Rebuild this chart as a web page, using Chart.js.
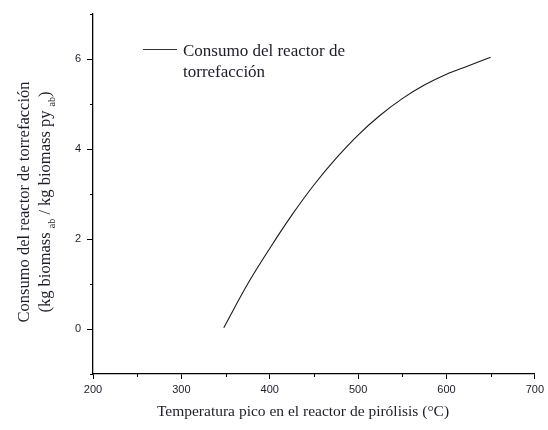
<!DOCTYPE html>
<html>
<head>
<meta charset="utf-8">
<script src="https://cdn.jsdelivr.net/npm/chart.js@4.4.1/dist/chart.umd.min.js"></script>
<style>
  html, body { margin: 0; padding: 0; background: #fff; }
  #wrap { width: 548px; height: 430px; position: relative; }
</style>
</head>
<body>
<div id="wrap"><canvas id="chart" width="548" height="430"></canvas></div>
<script>
// Temperatura pico (°C) y consumo del reactor de torrefacción
const temperatures = [348, 375, 400, 425, 450, 475, 500, 525, 550, 575, 600, 625, 650];
const consumption  = [0.03, 1.0, 1.79, 2.53, 3.2, 3.79, 4.31, 4.75, 5.12, 5.42, 5.66, 5.85, 6.04];

const xTicks = [200, 300, 400, 500, 600, 700];
const yTicks = [0, 2, 4, 6];
const xMinor = [250, 350, 450, 550, 650];
const yMinor = [-1, 1, 3, 5, 7];

const legendLines = ["Consumo del reactor de", "torrefacción"];
const xTitle = "Temperatura pico en el reactor de pirólisis (°C)";
const yTitle1 = "Consumo del reactor de torrefacción";

const serif = "'Liberation Serif', 'DejaVu Serif', serif";
const textColor = "#1c1c2c";

// Dibuja ticks menores, títulos de ejes y la leyenda
const extrasPlugin = {
  id: 'extras',
  afterDraw(chart) {
    const ctx = chart.ctx;
    const xs = chart.scales.x, ys = chart.scales.y;
    const area = chart.chartArea;
    ctx.save();
    ctx.strokeStyle = '#000';
    ctx.lineWidth = 1;
    // ticks menores
    xMinor.forEach(v => {
      const px = Math.round(xs.getPixelForValue(v)) + 0.5;
      ctx.beginPath();
      ctx.moveTo(px, area.bottom);
      ctx.lineTo(px, area.bottom + 3);
      ctx.stroke();
    });
    yMinor.forEach(v => {
      const py = Math.round(ys.getPixelForValue(v)) + 0.5;
      ctx.beginPath();
      ctx.moveTo(area.left, py);
      ctx.lineTo(area.left - 3, py);
      ctx.stroke();
    });

    ctx.fillStyle = textColor;
    // título eje x
    ctx.font = "15.5px " + serif;
    ctx.textAlign = 'center';
    ctx.textBaseline = 'middle';
    ctx.fillText(xTitle, 303, 412);

    // título eje y (dos líneas, la segunda con subíndices)
    ctx.save();
    ctx.translate(25, 202);
    ctx.rotate(-Math.PI / 2);
    ctx.font = "16.5px " + serif;
    ctx.textAlign = 'center';
    ctx.textBaseline = 'middle';
    ctx.fillText(yTitle1, 0, 0);
    ctx.restore();

    ctx.save();
    ctx.translate(46, 202);
    ctx.rotate(-Math.PI / 2);
    const parts = [
      { t: "(kg biomass ", sub: false },
      { t: "ab", sub: true },
      { t: " / kg biomass py ", sub: false },
      { t: "ab", sub: true },
      { t: ")", sub: false }
    ];
    const bigFont = "16.5px " + serif, smallFont = "10px " + serif;
    let total = 0;
    parts.forEach(p => {
      ctx.font = p.sub ? smallFont : bigFont;
      p.w = ctx.measureText(p.t).width;
      total += p.w;
    });
    let cx = -total / 2;
    ctx.textAlign = 'left';
    ctx.textBaseline = 'middle';
    parts.forEach(p => {
      ctx.font = p.sub ? smallFont : bigFont;
      ctx.fillText(p.t, cx, p.sub ? 6 : 0);
      cx += p.w;
    });
    ctx.restore();

    // leyenda
    ctx.strokeStyle = '#333';
    ctx.lineWidth = 1.2;
    ctx.beginPath();
    ctx.moveTo(143, 49.5);
    ctx.lineTo(177, 49.5);
    ctx.stroke();
    ctx.font = "17px " + serif;
    ctx.textAlign = 'left';
    ctx.textBaseline = 'alphabetic';
    ctx.fillText(legendLines[0], 183, 56);
    ctx.fillText(legendLines[1], 183, 77);
    ctx.restore();
  }
};

const ctx = document.getElementById('chart').getContext('2d');
new Chart(ctx, {
  type: 'line',
  data: {
    datasets: [{
      label: 'Consumo del reactor de torrefacción',
      data: temperatures.map((t, i) => ({ x: t, y: consumption[i] })),
      borderColor: '#1a1a1a',
      borderWidth: 1.1,
      pointRadius: 0,
      fill: false,
      cubicInterpolationMode: 'monotone'
    }]
  },
  options: {
    responsive: false,
    animation: false,
    layout: { padding: { top: 14, right: 12, left: 0, bottom: 0 } },
    plugins: {
      legend: { display: false },
      tooltip: { enabled: false }
    },
    scales: {
      x: {
        type: 'linear',
        min: 200,
        max: 700,
        afterBuildTicks: scale => { scale.ticks = xTicks.map(v => ({ value: v })); },
        afterFit: scale => { scale.height = 56; },
        border: { color: '#000', width: 1.3 },
        grid: { drawOnChartArea: false, drawTicks: true, tickLength: 5, color: '#000' },
        ticks: {
          color: textColor,
          font: { family: "'Liberation Sans', Arial, sans-serif", size: 11 },
          padding: 4,
          maxRotation: 0
        }
      },
      y: {
        type: 'linear',
        min: -1,
        max: 7,
        afterBuildTicks: scale => { scale.ticks = yTicks.map(v => ({ value: v })); },
        afterFit: scale => { scale.width = 93; },
        border: { color: '#000', width: 1.3 },
        grid: { drawOnChartArea: false, drawTicks: true, tickLength: 6, color: '#000' },
        ticks: {
          color: textColor,
          font: { family: "'Liberation Sans', Arial, sans-serif", size: 11 },
          padding: 6
        }
      }
    }
  },
  plugins: [extrasPlugin]
});
</script>
</body>
</html>
